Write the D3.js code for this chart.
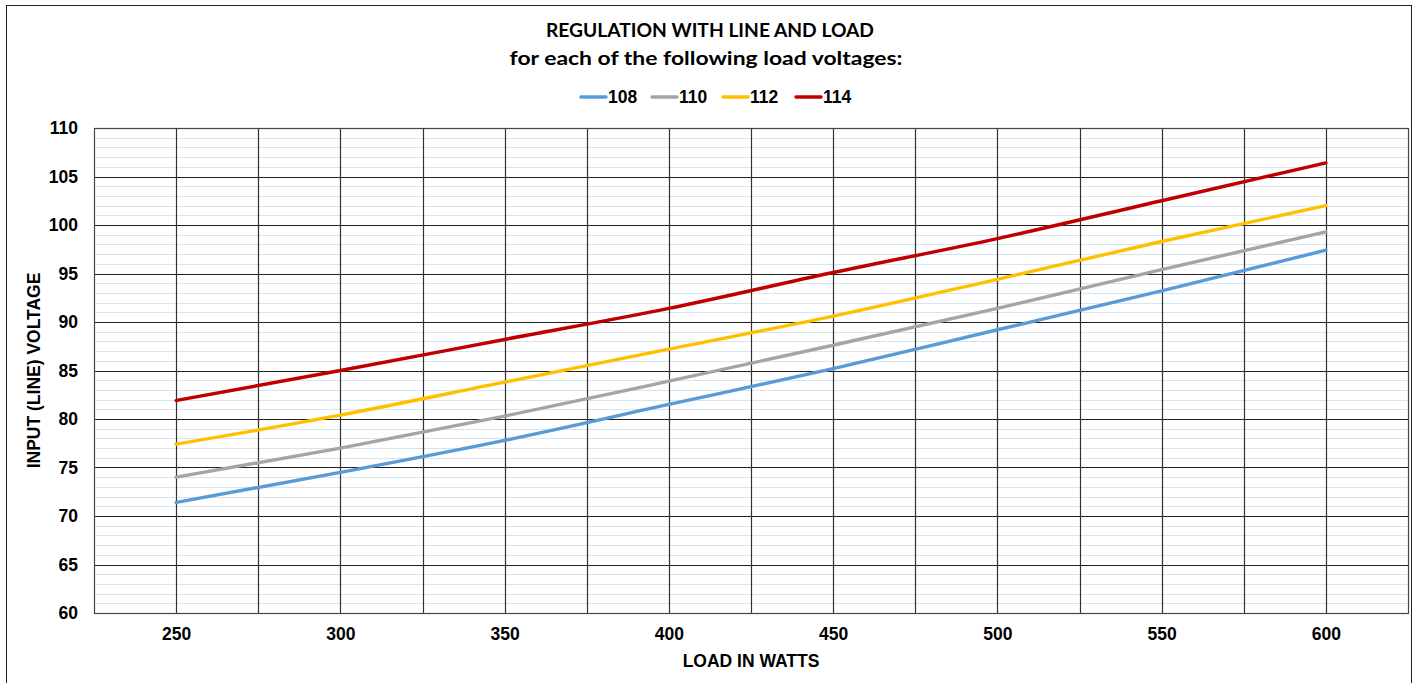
<!DOCTYPE html>
<html>
<head>
<meta charset="utf-8">
<script src="https://cdn.jsdelivr.net/npm/d3@7"></script>
<style>
    body { margin: 0; background: #fff; }
    svg { display: block; }
</style>
</head>
<body>
<svg id="svg" width="1413" height="683"></svg>
<script>
//Data
const LOADS = [250, 300, 350, 400, 450, 500, 550, 600];
const SERIES_NAMES = ["108", "110", "112", "114"];
const V108 = [71.4, 74.5, 77.8, 81.5, 85.2, 89.2, 93.2, 97.4];
const V110 = [74.0, 77.0, 80.3, 83.9, 87.6, 91.4, 95.4, 99.3];
const V112 = [77.4, 80.4, 83.8, 87.2, 90.6, 94.4, 98.3, 102.0];
const V114 = [81.9, 85.0, 88.2, 91.4, 95.1, 98.6, 102.5, 106.4];
const X_TICKS = [250, 300, 350, 400, 450, 500, 550, 600];
const Y_TICKS = [60, 65, 70, 75, 80, 85, 90, 95, 100, 105, 110];
const COLORS = ["#5b9bd5", "#a5a5a5", "#ffc000", "#c00000"];

const SERIES = [V108, V110, V112, V114];
const SVG = d3.select("#svg");
const LEFT = 94, RIGHT = 1408, TOP = 128, BOTTOM = 613;
const BOLD = "Liberation Sans, Arial, sans-serif";
const TITLE_FONT = "Lato, Open Sans, sans-serif";

//Outer frame
SVG.append("rect")
    .attr("x", 6.5).attr("y", 5.5)
    .attr("width", 1405).attr("height", 700)
    .attr("fill", "none").attr("stroke", "#222").attr("stroke-width", 1);

//Scales
let x_scale = d3.scaleLinear().domain([225, 625]).range([LEFT, RIGHT]);
let y_scale = d3.scaleLinear().domain([60, 110]).range([BOTTOM, TOP]);

//Minor horizontal grid
SVG.append("g")
    .selectAll("line")
    .data(d3.range(61, 110, 1).filter(v => v % 5 !== 0))
    .enter().append("line")
    .attr("x1", LEFT).attr("x2", RIGHT)
    .attr("y1", v => Math.round(y_scale(v)) + 0.5)
    .attr("y2", v => Math.round(y_scale(v)) + 0.5)
    .attr("stroke", "#d6e4f2").attr("stroke-width", 1);

//Major horizontal grid
SVG.append("g")
    .selectAll("line")
    .data(Y_TICKS)
    .enter().append("line")
    .attr("x1", LEFT).attr("x2", RIGHT)
    .attr("y1", v => Math.round(y_scale(v)) + 0.5)
    .attr("y2", v => Math.round(y_scale(v)) + 0.5)
    .attr("stroke", "#222").attr("stroke-width", 1.2);

//Vertical grid every 25
SVG.append("g")
    .selectAll("line")
    .data(d3.range(250, 625, 25))
    .enter().append("line")
    .attr("y1", TOP).attr("y2", BOTTOM)
    .attr("x1", v => Math.round(x_scale(v)) + 0.5)
    .attr("x2", v => Math.round(x_scale(v)) + 0.5)
    .attr("stroke", "#333").attr("stroke-width", 1.2);

//Plot border
SVG.append("rect")
    .attr("x", LEFT + 0.5).attr("y", TOP + 0.5)
    .attr("width", RIGHT - LEFT).attr("height", BOTTOM - TOP)
    .attr("fill", "none").attr("stroke", "#444").attr("stroke-width", 1.2);

//Axes (labels only)
let x_axis = d3.axisBottom(x_scale).tickValues(X_TICKS).tickSize(0).tickPadding(15);
let y_axis = d3.axisLeft(y_scale).tickValues(Y_TICKS).tickSize(0).tickPadding(16);

let gx = SVG.append("g").attr("transform", "translate(0," + BOTTOM + ")").call(x_axis);
let gy = SVG.append("g").attr("transform", "translate(" + LEFT + ",0)").call(y_axis);
[gx, gy].forEach(g => {
    g.select(".domain").remove();
    g.selectAll("text")
        .attr("font-family", BOLD)
        .attr("font-weight", "bold")
        .attr("font-size", 17.5)
        .attr("fill", "#000");
});

//Lines
let line = d3.line()
    .x((d, i) => x_scale(LOADS[i]))
    .y(d => y_scale(d))
    .curve(d3.curveMonotoneX);

SVG.append("g")
    .selectAll("path")
    .data(SERIES)
    .enter().append("path")
    .attr("d", d => line(d))
    .attr("fill", "none")
    .attr("stroke", (d, i) => COLORS[i])
    .attr("stroke-width", 3.4)
    .attr("stroke-linecap", "round");

//Titles
SVG.append("text")
    .attr("x", 710).attr("y", 37)
    .attr("text-anchor", "middle")
    .attr("font-family", TITLE_FONT)
    .attr("font-weight", "bold")
    .attr("font-size", 19.5)
    .attr("textLength", 328).attr("lengthAdjust", "spacingAndGlyphs")
    .attr("fill", "#000")
    .text("REGULATION WITH LINE AND LOAD");

SVG.append("text")
    .attr("x", 706).attr("y", 65)
    .attr("text-anchor", "middle")
    .attr("font-family", TITLE_FONT)
    .attr("font-weight", "bold")
    .attr("font-size", 19.5)
    .attr("textLength", 393).attr("lengthAdjust", "spacingAndGlyphs")
    .attr("fill", "#000")
    .text("for each of the following load voltages:");

//Legend
const LEGEND_X = [580, 651, 722, 795];
let legend = SVG.append("g");
SERIES_NAMES.forEach((name, i) => {
    legend.append("line")
        .attr("x1", LEGEND_X[i] + 1).attr("x2", LEGEND_X[i] + 26)
        .attr("y1", 97).attr("y2", 97)
        .attr("stroke", COLORS[i]).attr("stroke-width", 3.4)
        .attr("stroke-linecap", "round");
    legend.append("text")
        .attr("x", LEGEND_X[i] + 28).attr("y", 103)
        .attr("font-family", BOLD)
        .attr("font-weight", "bold")
        .attr("font-size", 17.5)
        .attr("fill", "#000")
        .text(name);
});

//Axis labels
SVG.append("text")
    .attr("x", (LEFT + RIGHT) / 2).attr("y", 667)
    .attr("text-anchor", "middle")
    .attr("font-family", BOLD)
    .attr("font-weight", "bold")
    .attr("font-size", 17.5)
    .text("LOAD IN WATTS");

SVG.append("text")
    .attr("transform", "translate(40," + ((TOP + BOTTOM) / 2) + ") rotate(-90)")
    .attr("text-anchor", "middle")
    .attr("font-family", BOLD)
    .attr("font-weight", "bold")
    .attr("font-size", 17.5)
    .text("INPUT (LINE) VOLTAGE");
</script>
</body>
</html>
